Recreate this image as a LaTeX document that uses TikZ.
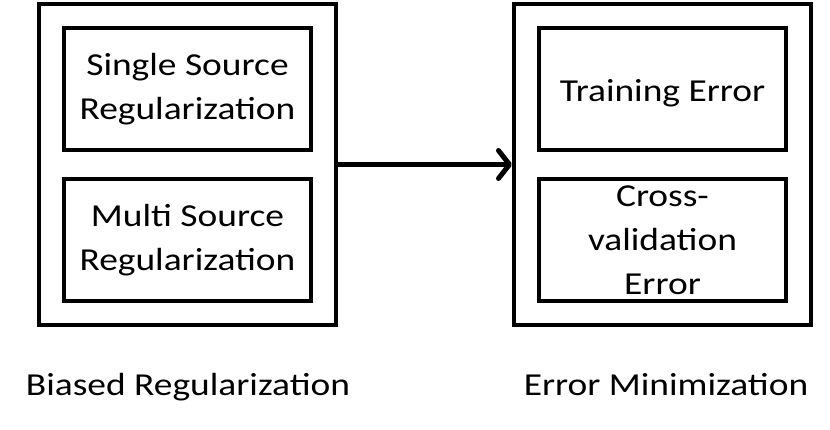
\documentclass[tikz,border=0pt]{standalone}
\usepackage{fontspec}
\setmainfont{Carlito}[FakeStretch=1.17]
\usetikzlibrary{arrows.meta}
\begin{document}
\begin{tikzpicture}[x=1pt, y=-1pt, font=\fontsize{32}{44}\selectfont,
	outerbox/.style={draw, line width=4pt, inner sep=0pt, minimum width=297pt, minimum height=321pt},
	innerbox/.style={draw, line width=4pt, inner sep=0pt, minimum width=247pt, minimum height=122pt, align=center,
		execute at begin node={\rule{0pt}{31pt}}}]
	\useasboundingbox (0,0) rectangle (830,430);
	%outer boxes
	\node[outerbox] (bias) at (187.5,164.5) {};
	\node[outerbox] (err) at (662.5,164.5) {};
	%inner boxes
	\node[innerbox] (single) at (187.5,89) {Single Source\\Regularization};
	\node[innerbox] (multi) at (187.5,240) {Multi Source\\Regularization};
	\node[innerbox] (train) at (662.5,89) {Training Error};
	\node[innerbox] (cross) at (662.5,240) {Cross-\\validation\\Error};
	%arrow
	\draw[line width=5pt, -{Straight Barb[length=11pt, width=28pt, round]}] (bias.east) -- (err.west);
	%labels
	\node[anchor=base] (biaslabel) at (188,395) {Biased Regularization};
	\node[anchor=base] (errlabel) at (666,395) {Error Minimization};
\end{tikzpicture}
\end{document}
